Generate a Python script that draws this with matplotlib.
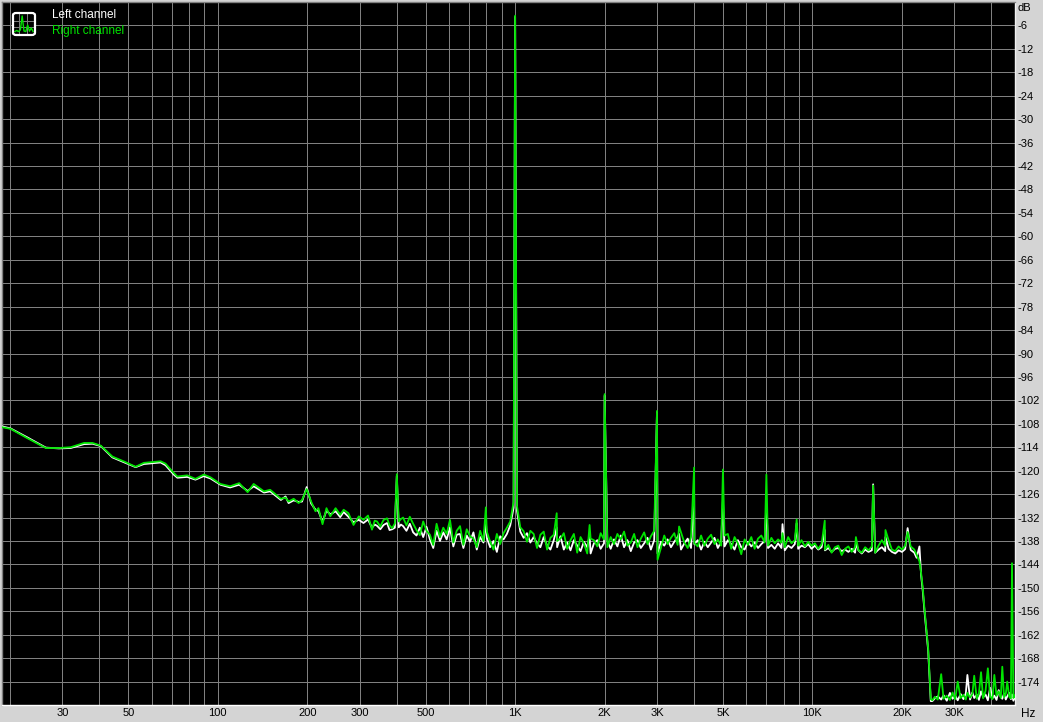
import numpy as np
import matplotlib
matplotlib.use("Agg")
import matplotlib.pyplot as plt
from matplotlib.patches import FancyBboxPatch

# --- spectrum (Hz, dB) ---
low_hz = [18.9, 20.1, 22.9, 26.4, 29.2, 32.0, 35.5, 37.9, 40.4, 44.2,
          48.2, 52.9, 56.4, 64.2, 66.7, 71.1, 73.1, 78.9, 84.1, 89.7,
          94.5, 102, 110, 118, 126, 132, 143, 150, 163, 169,
          173, 180, 187, 192, 199, 206, 213, 218, 225, 232,
          239, 249, 258, 265, 275, 286, 298, 309, 320, 330,
          337, 343, 352, 361, 371, 378, 386, 394, 406, 413]
low_right_db = [-108.9, -109.3, -111.7, -114.2, -114.2, -114.0, -112.9, -112.9, -113.6, -116.4,
                -117.6, -119.0, -118.0, -117.6, -118.2, -120.6, -121.5, -121.2, -122.1, -121.0,
                -121.7, -123.4, -124.0, -123.2, -125.5, -123.4, -125.3, -124.9, -127.2, -126.9,
                -127.9, -127.2, -128.3, -127.5, -124.7, -127.9, -130.4, -129.6, -133.7, -129.6,
                -131.7, -129.6, -131.3, -130.0, -130.9, -133.9, -131.7, -132.6, -131.5, -135.1,
                -132.8, -133.0, -134.3, -132.6, -132.2, -134.0, -134.7, -133.5, -133.0, -132.4]
low_left_db = [-108.7, -109.2, -111.5, -114.1, -114.3, -114.2, -113.2, -113.1, -113.7, -116.6,
               -117.8, -119.1, -118.3, -117.9, -118.6, -121.0, -121.8, -121.6, -122.3, -121.4,
               -122.0, -123.6, -124.3, -123.6, -125.2, -124.0, -125.6, -125.3, -127.5, -126.6,
               -128.3, -127.6, -128.0, -127.9, -124.2, -128.4, -130.0, -130.3, -133.1, -130.2,
               -131.2, -130.4, -131.9, -130.6, -131.8, -133.2, -132.6, -133.4, -132.5, -134.6,
               -133.8, -134.1, -135.0, -133.9, -133.4, -135.2, -135.0, -134.6, -134.5, -133.8]

# noise floor read at evenly log-spaced points between these two frequencies
floor_start_hz = 420
floor_stop_hz = 20000
floor_right_db = [
    -132.0, -134.0, -131.8, -133.6, -135.2, -136.5, -133.0, -135.4, -136.4, -139.0,
    -133.6, -137.0, -134.6, -136.2, -132.6, -138.4, -135.4, -134.2, -139.0, -135.0,
    -136.8, -137.4, -139.6, -135.4, -138.0, -135.6, -138.2, -140.2, -136.2, -138.8,
    -136.0, -134.6, -133.0, -128.0, -129.0, -134.5, -135.5, -138.2, -135.4, -136.2,
    -139.8, -136.4, -135.6, -140.2, -137.2, -136.4, -138.0, -137.4, -136.0, -140.0,
    -137.8, -136.2, -141.0, -137.0, -138.6, -141.2, -137.4, -137.8, -139.4, -136.0,
    -137.6, -139.6, -137.0, -138.8, -136.2, -137.6, -135.6, -139.2, -138.4, -136.2,
    -139.6, -137.4, -135.8, -138.8, -136.8, -135.4, -142.8, -139.8, -136.6, -138.8,
    -137.2, -136.0, -139.0, -135.8, -138.4, -139.8, -137.0, -138.6, -139.4, -136.6,
    -139.2, -137.4, -136.4, -138.8, -137.6, -139.2, -136.6, -136.2, -140.0, -137.0,
    -138.6, -141.4, -137.6, -139.0, -137.0, -140.0, -137.4, -136.6, -138.4, -139.2,
    -137.2, -138.6, -137.6, -138.4, -139.6, -137.0, -138.6, -137.8, -139.2, -137.8,
    -139.4, -138.2, -139.2, -138.6, -140.0, -138.8, -140.2, -139.0, -141.0, -139.6,
    -139.2, -141.6, -140.0, -139.4, -140.8, -139.6, -140.4, -141.0, -139.6, -140.4,
    -139.4, -141.0, -139.2, -137.8, -139.2, -137.8, -140.2, -140.6, -139.4, -140.2]
floor_left_db = [
    -134.2, -135.4, -133.6, -135.8, -136.6, -134.6, -137.0, -134.4, -137.6, -139.8,
    -135.4, -138.0, -135.8, -137.6, -134.6, -139.4, -136.4, -136.2, -139.8, -136.6,
    -138.2, -135.8, -140.2, -137.0, -138.4, -137.2, -139.6, -138.0, -140.8, -136.8,
    -137.6, -136.2, -134.0, -129.5, -130.2, -135.6, -137.2, -136.0, -138.4, -137.0,
    -138.6, -139.6, -137.0, -139.2, -140.2, -137.8, -139.6, -136.8, -140.2, -138.4,
    -140.4, -137.8, -139.2, -140.6, -138.2, -139.6, -141.2, -138.6, -137.8, -140.0,
    -138.6, -138.0, -140.0, -137.6, -139.4, -136.6, -139.6, -137.8, -140.6, -138.4,
    -137.8, -139.8, -138.6, -137.2, -140.2, -137.8, -141.2, -138.2, -139.2, -137.6,
    -139.6, -138.2, -137.0, -140.2, -138.6, -137.4, -139.8, -138.8, -137.8, -140.2,
    -138.2, -139.6, -138.4, -137.2, -139.8, -138.2, -139.4, -137.8, -138.8, -140.2,
    -137.8, -139.6, -140.2, -138.2, -139.4, -138.4, -139.8, -138.8, -138.0, -139.8,
    -139.0, -140.0, -138.6, -139.8, -140.4, -139.2, -139.8, -138.8, -140.0, -139.2,
    -139.6, -138.8, -140.0, -139.2, -140.2, -139.6, -140.4, -139.8, -140.8, -140.0,
    -139.8, -140.6, -140.2, -140.8, -140.0, -141.0, -140.4, -141.2, -140.2, -140.8,
    -140.4, -141.0, -140.2, -139.6, -140.6, -140.0, -140.8, -141.2, -140.4, -140.8]

# fundamental, harmonics and other tones
spike_hz = [400, 797, 1000, 1380, 1780, 2000, 3000, 3560, 4000, 5000,
            7000, 7930, 8850, 11000, 14000, 16000, 17600]
spike_right_db = [-120.9, -129.4, -3.5, -130.9, -133.9, -100.4, -104.7, -134.3, -119.2, -119.7,
                  -121.0, -136.0, -132.5, -132.8, -137.0, -123.8, -135.2]
spike_left_db = [-121.4, -132.8, -3.8, -134.6, -136.6, -100.8, -105.0, -136.2, -126.1, -127.4,
                 -128.5, -133.7, -133.5, -135.2, -138.5, -123.5, -137.0]

rolloff_hz = [20500, 20900, 21400, 22000, 22400, 22900, 23200, 23500, 23800, 24200,
              24500, 24700, 24850, 25000]
rolloff_right_db = [-139.2, -135.7, -139.4, -140.2, -141.5, -143.2, -146.2, -150.1, -155.2, -161.2,
                    -165.5, -170.6, -174.0, -178.5]
rolloff_left_db = [-140.1, -134.7, -140.3, -141.0, -142.3, -139.4, -146.8, -150.8, -155.8, -161.8,
                   -166.0, -171.2, -175.0, -179.0]

ultra_hz = [25300, 25800, 26400, 27100, 27600, 28300, 29000, 29600, 30200, 30800,
            31500, 32200, 32800, 33200, 33900, 34500, 35000, 35700, 36300, 36900,
            37500, 38200, 38900, 39600, 40300, 40900, 41600, 42300, 43000, 43500,
            44100, 44700, 45200, 45900, 46500, 46900, 47400, 48000]
ultra_right_db = [-178.8, -177.9, -178.6, -172.1, -178.4, -177.6, -178.7, -176.8, -178.5, -174.0,
                  -178.2, -177.4, -178.6, -176.9, -178.1, -177.2, -172.5, -178.4, -177.0, -171.6,
                  -178.3, -176.4, -170.6, -177.8, -178.5, -172.3, -177.6, -176.5, -178.2, -170.2,
                  -178.0, -177.1, -174.0, -177.9, -178.3, -143.7, -178.2, -177.5]
ultra_left_db = [-179.0, -178.3, -177.8, -178.6, -177.5, -178.9, -176.9, -178.4, -177.6, -178.8,
                 -177.2, -178.5, -177.0, -172.3, -178.6, -176.8, -178.2, -177.4, -178.7, -176.5,
                 -178.0, -177.3, -178.8, -175.6, -178.3, -177.6, -178.7, -176.2, -177.9, -178.4,
                 -177.1, -178.6, -177.8, -176.9, -178.5, -177.3, -178.9, -178.0]

grid_hz = [20, 30, 40, 50, 60, 70, 80, 90,
           100, 200, 300, 400, 500, 600, 700, 800, 900,
           1000, 2000, 3000, 4000, 5000, 6000, 7000, 8000, 9000,
           10000, 20000, 30000, 40000]
hz_labels = {30: "30", 50: "50", 100: "100", 200: "200", 300: "300", 500: "500",
             1000: "1K", 2000: "2K", 3000: "3K", 5000: "5K",
             10000: "10K", 20000: "20K", 30000: "30K"}
db_ticks = [-6 * k for k in range(1, 30)]

icon_levels = [0.12, 0.18, 0.12, 0.2, 0.9, 0.15, 0.12, 0.45, 0.14, 0.3, 0.12]

GREEN = "#00e400"
PANEL = "#d4d4d4"
GRID = "#808080"
FONT = "Liberation Sans"


def build_channel(left):
    floor_db = floor_left_db if left else floor_right_db
    floor_hz = np.geomspace(floor_start_hz, floor_stop_hz, len(floor_db))
    hz = np.concatenate([low_hz, floor_hz, spike_hz, rolloff_hz, ultra_hz])
    if left:
        db = np.concatenate([low_left_db, floor_db, spike_left_db, rolloff_left_db, ultra_left_db])
    else:
        db = np.concatenate([low_right_db, floor_db, spike_right_db, rolloff_right_db, ultra_right_db])
    order = np.argsort(hz)
    return hz[order], db[order]


W, H = 1043, 722
fig = plt.figure(figsize=(W / 100, H / 100), dpi=100, facecolor=PANEL)
ax = fig.add_axes([2 / W, 17 / H, 1013 / W, 703 / H])
ax.set_facecolor("black")

left_hz, left_db = build_channel(True)
right_hz, right_db = build_channel(False)
ax.plot(left_hz, left_db, color="white", lw=1.3, zorder=3)
ax.plot(right_hz, right_db, color=GREEN, lw=1.3, zorder=4)

ax.set_xscale("log")
ax.set_xlim(18.8, 48000)
ax.set_ylim(-180, 0)

ax.set_xticks(grid_hz)
ax.set_xticks([], minor=True)
ax.set_xticklabels([hz_labels.get(f, "") for f in grid_hz], fontfamily=FONT, fontsize=8)
ax.set_yticks(db_ticks)
ax.set_yticklabels([str(v) for v in db_ticks], fontfamily=FONT, fontsize=8)
ax.yaxis.tick_right()
ax.tick_params(axis="x", length=0, pad=2)
ax.tick_params(axis="y", length=0, pad=1.5)
ax.grid(True, color=GRID, lw=0.72)
ax.set_axisbelow(True)

for side in ["top", "left"]:
    ax.spines[side].set_color(GRID)
ax.spines["bottom"].set_color("white")
ax.spines["right"].set_color("#f0f0f0")
for sp in ax.spines.values():
    sp.set_linewidth(1.0)

fig.text(1018 / W, 1 - 8 / H, "dB", fontfamily=FONT, fontsize=8, va="center", ha="left")
fig.text(1021 / W, 1 - 714 / H, "Hz", fontfamily=FONT, fontsize=8.5, va="center", ha="left")

# legend
icon = fig.add_axes([14 / W, 1 - 34 / H, 20 / W, 20 / H])
icon.set_facecolor("black")
icon.plot(np.arange(len(icon_levels)), icon_levels, color=GREEN, lw=1.0)
icon.set_xlim(-0.5, len(icon_levels) - 0.5)
icon.set_ylim(0, 1)
icon.set_xticks([2.5, 6.5])
icon.set_yticks([0.33, 0.66])
icon.tick_params(length=0, labelbottom=False, labelleft=False)
icon.grid(True, color=GRID, lw=0.7)
icon.set_axisbelow(True)
for sp in icon.spines.values():
    sp.set_visible(False)
frame = FancyBboxPatch((13 / W, 1 - 35 / H), 22 / W, 22 / H,
                       boxstyle="round,pad=0,rounding_size=0.003",
                       transform=fig.transFigure, facecolor="none",
                       edgecolor="white", lw=1.6, zorder=10)
fig.patches.append(frame)

fig.text(52 / W, 1 - 15 / H, "Left channel", color="white", fontfamily=FONT, fontsize=8.5, va="center")
fig.text(52 / W, 1 - 31 / H, "Right channel", color=GREEN, fontfamily=FONT, fontsize=8.5, va="center")

fig.savefig("out.png", dpi=100, facecolor=PANEL)
